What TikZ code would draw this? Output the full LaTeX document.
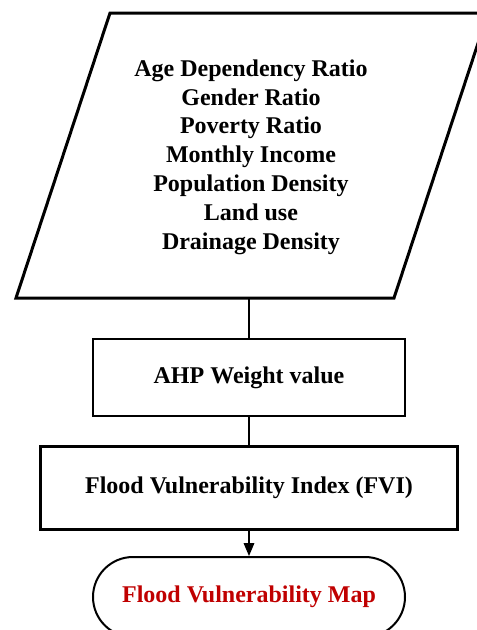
\documentclass[tikz,border=0pt]{standalone}
\usepackage{fontspec}
\setmainfont{Liberation Serif}
\usetikzlibrary{calc}
\usetikzlibrary{arrows}
\usetikzlibrary{shapes.misc}
\usetikzlibrary{positioning}
\definecolor{mapred}{RGB}{192,0,0}

\begin{document}
\begin{tikzpicture}[x=1pt,y=-1pt,box/.style={rectangle, draw, line width=2.6pt, minimum width=312pt, minimum height=77pt, inner sep=0pt, font=\bfseries\fontsize{24}{28.8}\selectfont}]
    \tikzset{term/.style={rounded rectangle, draw, line width=2pt, minimum width=312pt, minimum height=80pt, inner sep=0pt, text=mapred, font=\bfseries\fontsize{24}{28.8}\selectfont}}
    \tikzset{link/.style={line width=2pt}}
    \useasboundingbox (0,0) rectangle (477,630);
    \clip (0,0) rectangle (477,630);
    \fill[white] (0,0) rectangle (477,630);
    % input layers
    \def \shift {94}
    \draw[line width=3pt, line join=miter] (16,298) -- (16+\shift,13) -- (488,13) -- (488-\shift,298) -- cycle;
    \node[align=center, font=\bfseries\fontsize{24}{28.8}\selectfont] (inputs) at (251,157) {Age Dependency Ratio\\Gender Ratio\\Poverty Ratio\\Monthly Income\\Population Density\\Land use\\Drainage Density};
    \coordinate (pbot) at (249,298);

    \node[box] (ahp) at (249,377.5) {AHP Weight value};
    \node[box, minimum width=417pt, minimum height=82.5pt] (fvi) at (249,488) {Flood Vulnerability Index (FVI)};
    \node[term] (fvmap) at (249,597) {Flood Vulnerability Map};

    \draw[link] (pbot) -- (ahp);
    \draw[link] (ahp) -- (fvi);
    \draw[link, >=triangle 45, ->] (fvi) -- (fvmap);
\end{tikzpicture}
\end{document}
